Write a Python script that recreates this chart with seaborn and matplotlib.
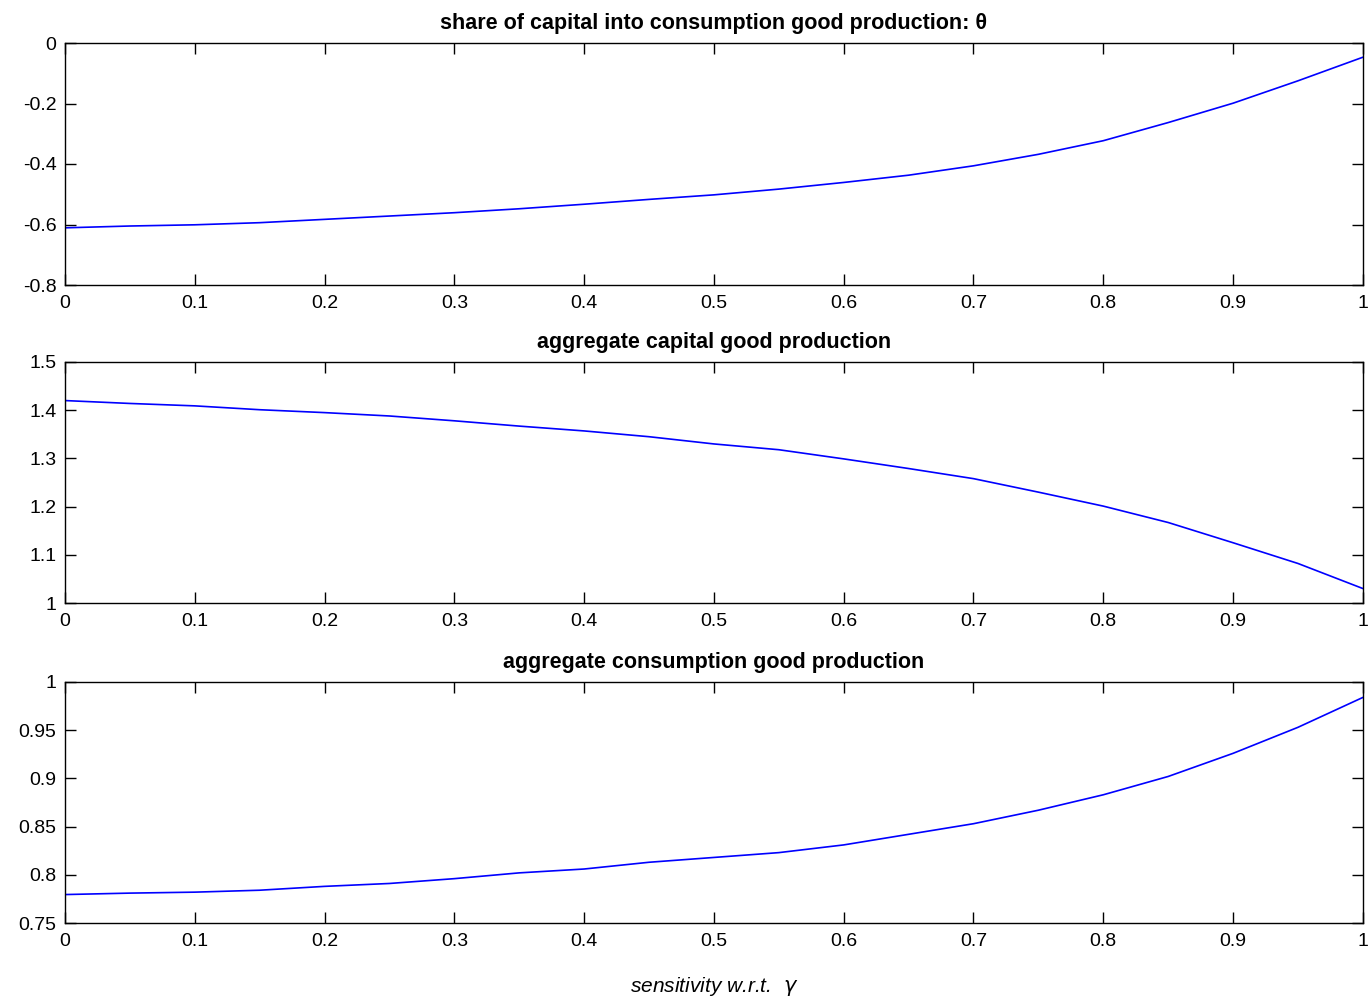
import numpy as np
import pandas as pd
import matplotlib
matplotlib.use("Agg")
import matplotlib.pyplot as plt
import seaborn as sns

# sensitivity grid for gamma
gamma = [0.0, 0.05, 0.1, 0.15, 0.2, 0.25, 0.3, 0.35, 0.4, 0.45, 0.5,
         0.55, 0.6, 0.65, 0.7, 0.75, 0.8, 0.85, 0.9, 0.95, 1.0]

# share of capital into consumption good production (theta)
theta_share = [-0.611, -0.605, -0.601, -0.594, -0.583, -0.572, -0.561, -0.548,
               -0.533, -0.517, -0.502, -0.483, -0.461, -0.437, -0.406, -0.368,
               -0.323, -0.263, -0.199, -0.125, -0.047]

# aggregate capital good production
capital_prod = [1.420, 1.414, 1.409, 1.401, 1.395, 1.388, 1.378, 1.367, 1.357,
                1.345, 1.330, 1.318, 1.299, 1.279, 1.258, 1.230, 1.201, 1.167,
                1.125, 1.082, 1.030]

# aggregate consumption good production
consumption_prod = [0.7795, 0.781, 0.782, 0.784, 0.788, 0.791, 0.796, 0.802,
                    0.806, 0.813, 0.818, 0.823, 0.831, 0.842, 0.853, 0.867,
                    0.883, 0.902, 0.926, 0.953, 0.984]

titles = ["share of capital into consumption good production: \u03b8",
          "aggregate capital good production",
          "aggregate consumption good production"]
ylims = [(-0.8, 0.0), (1.0, 1.5), (0.75, 1.0)]
yticks = [[-0.8, -0.6, -0.4, -0.2, 0.0],
          [1.0, 1.1, 1.2, 1.3, 1.4, 1.5],
          [0.75, 0.8, 0.85, 0.9, 0.95, 1.0]]
xticks = [0, 0.1, 0.2, 0.3, 0.4, 0.5, 0.6, 0.7, 0.8, 0.9, 1.0]

sns.set_theme(style="white")
plt.rcParams["font.family"] = ["Liberation Sans", "DejaVu Sans"]
plt.rcParams["text.color"] = "black"
plt.rcParams["axes.labelcolor"] = "black"

fig = plt.figure(figsize=(13.7, 10), dpi=100)
fig.patch.set_facecolor("white")

# axes rectangles: left, bottom, width, height (figure fractions)
rects = [(0.0474, 0.715, 0.9474, 0.242),
         (0.0474, 0.397, 0.9474, 0.241),
         (0.0474, 0.077, 0.9474, 0.241)]

series = [theta_share, capital_prod, consumption_prod]


def fmt(v):
    s = ("%g" % v)
    if s == "-0":
        s = "0"
    return s


for rect, values, title, ylim, yt in zip(rects, series, titles, ylims, yticks):
    ax = fig.add_axes(rect)
    df = pd.DataFrame({"gamma": gamma, "value": values})
    sns.lineplot(data=df, x="gamma", y="value", ax=ax, color="#0000ff",
                 linewidth=1.2)
    ax.set_xlim(0, 1)
    ax.set_ylim(*ylim)
    ax.set_xticks(xticks)
    ax.set_xticklabels([fmt(t) for t in xticks])
    ax.set_yticks(yt)
    ax.set_yticklabels([fmt(t) for t in yt])
    ax.set_xlabel("")
    ax.set_ylabel("")
    ax.set_title(title, fontsize=15.5, fontweight="bold", pad=10,
                 color="black")
    ax.tick_params(axis="both", which="both", direction="in", length=8,
                   width=1, colors="black", labelsize=14,
                   top=True, right=True, bottom=True, left=True)
    ax.tick_params(axis="x", pad=7)
    ax.tick_params(axis="y", pad=6)
    for sp in ax.spines.values():
        sp.set_visible(True)
        sp.set_color("black")
        sp.set_linewidth(1)
    ax.set_facecolor("white")
    ax.grid(False)

ax.set_xlabel("sensitivity w.r.t.  $\\gamma$", fontsize=15, style="italic",
              labelpad=18, color="black")

fig.savefig("out.png", dpi=100, facecolor="white")
